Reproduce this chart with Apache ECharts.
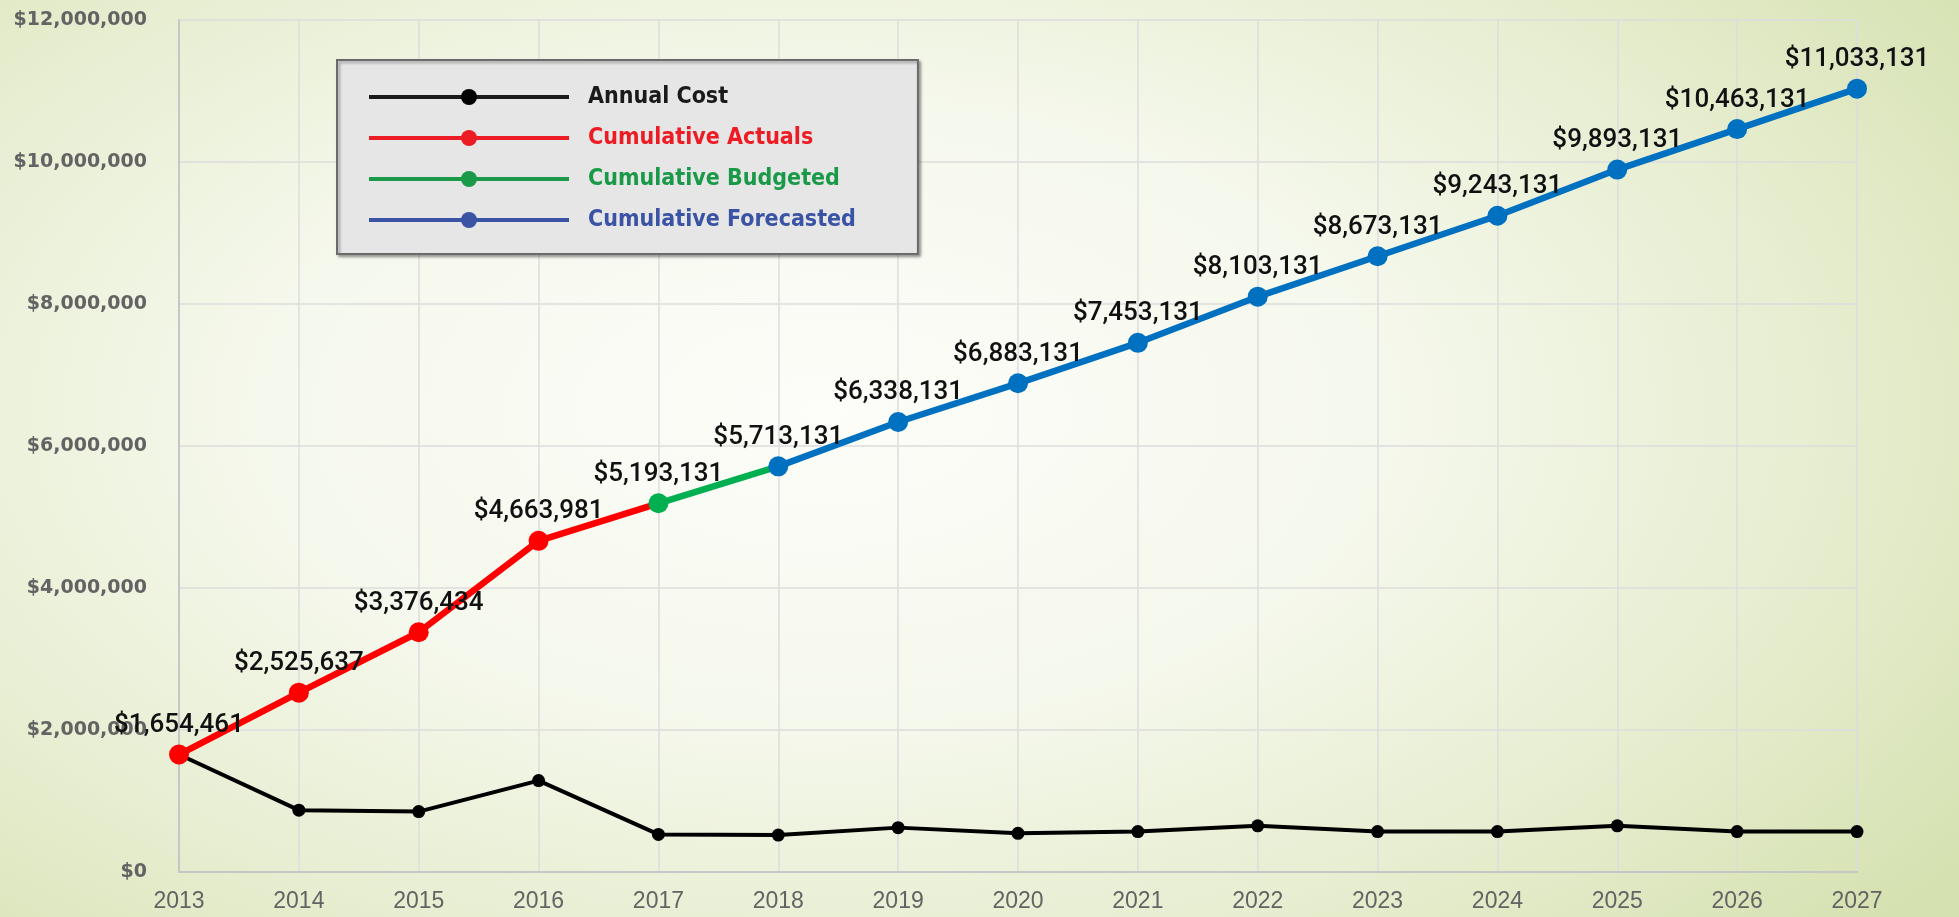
<!DOCTYPE html>
<html>
<head>
<meta charset="utf-8">
<script src="https://cdn.jsdelivr.net/npm/echarts@6/dist/echarts.min.js"></script>
<style>
  html, body { margin: 0; padding: 0; }
  #chart {
    width: 1959px;
    height: 917px;
    background: radial-gradient(ellipse 72% 85% at 42% 45%, #fdfdf9 0%, #f5f8ec 40%, #e6edcf 72%, #d5e1b0 100%);
  }
</style>
</head>
<body>
<div id="chart"></div>
<script>
const years = ['2013', '2014', '2015', '2016', '2017', '2018', '2019', '2020',
  '2021', '2022', '2023', '2024', '2025', '2026', '2027'];

const annualCost = [1654461, 871176, 850797, 1287547, 529150, 520000, 625000, 545000,
  570000, 650000, 570000, 570000, 650000, 570000, 570000];

// cumulative segments, the last point of each one joins the next segment
const cumActuals = [1654461, 2525637, 3376434, 4663981, 5193131, null, null, null,
  null, null, null, null, null, null, null];
const cumBudgeted = [null, null, null, null, 5193131, 5713131, null, null,
  null, null, null, null, null, null, null];
const cumForecasted = [null, null, null, null, null, 5713131, 6338131, 6883131,
  7453131, 8103131, 8673131, 9243131, 9893131, 10463131, 11033131];

const yTicks = [0, 2000000, 4000000, 6000000, 8000000, 10000000, 12000000];

const money = v => '$' + Number(v).toLocaleString('en-US');

// hide marker + label on the joining point (it belongs to the next segment)
function segment(values) {
  let last = -1;
  values.forEach((v, i) => { if (v != null) last = i; });
  return values.map((v, i) => {
    if (v == null) return null;
    if (i === last) return { value: v, symbolSize: 0, label: { show: false } };
    return v;
  });
}

const chart = echarts.init(document.getElementById('chart'));

const labelStyle = {
  show: true,
  position: 'top',
  distance: 6,
  formatter: p => money(p.value),
  fontFamily: 'Roboto',
  fontWeight: 500,
  fontSize: 26,
  color: '#111'
};

const legendFont = {
  fontFamily: "'DejaVu Sans Condensed', sans-serif",
  fontWeight: 'bold',
  fontSize: 23
};

const option = {
  backgroundColor: 'transparent',
  animation: false,
  grid: {
    left: 179,
    right: 102,
    top: 20,
    bottom: 45,
    containLabel: false
  },
  legend: {
    left: 337,
    top: 60,
    orient: 'vertical',
    selectedMode: false,
    itemWidth: 200,
    itemHeight: 20,
    itemGap: 15,
    padding: [24, 62, 21, 30],
    backgroundColor: '#e6e6e6',
    borderColor: '#6b6b6b',
    borderWidth: 2,
    borderRadius: 0,
    shadowBlur: 3,
    shadowOffsetX: 2,
    shadowOffsetY: 2,
    shadowColor: 'rgba(0,0,0,0.35)',
    textStyle: Object.assign({ padding: [0, 0, 0, 14], lineHeight: 26 }, legendFont),
    data: [
      { name: 'Annual Cost', textStyle: { color: '#1a1a1a' },
        itemStyle: { color: '#000' }, lineStyle: { color: '#1a1a1a', width: 4 } },
      { name: 'Cumulative Actuals', textStyle: { color: '#ed1c24' },
        itemStyle: { color: '#ed1c24' }, lineStyle: { color: '#ed1c24', width: 4 } },
      { name: 'Cumulative Budgeted', textStyle: { color: '#1a9a48' },
        itemStyle: { color: '#1a9a48' }, lineStyle: { color: '#1a9a48', width: 4 } },
      { name: 'Cumulative Forecasted', textStyle: { color: '#3a53a4' },
        itemStyle: { color: '#3a53a4' }, lineStyle: { color: '#3a53a4', width: 4 } }
    ]
  },
  xAxis: {
    type: 'category',
    data: years,
    boundaryGap: false,
    axisTick: { show: false },
    axisLine: { lineStyle: { color: '#c6c6c6', width: 2 } },
    axisLabel: {
      margin: 18,
      fontFamily: 'Liberation Sans',
      fontSize: 23,
      color: '#636363'
    },
    splitLine: { show: true, lineStyle: { color: '#dcdcdc', width: 1.5 } }
  },
  yAxis: {
    type: 'value',
    min: yTicks[0],
    max: yTicks[yTicks.length - 1],
    interval: yTicks[1] - yTicks[0],
    axisLine: { show: true, lineStyle: { color: '#c6c6c6', width: 2 } },
    axisTick: { show: false },
    axisLabel: {
      margin: 32,
      formatter: v => money(v),
      fontFamily: 'DejaVu Sans',
      fontWeight: 'bold',
      fontSize: 19,
      color: '#636363'
    },
    splitLine: { lineStyle: { color: '#dcdcdc', width: 1.5 } }
  },
  series: [
    {
      name: 'Annual Cost',
      type: 'line',
      data: annualCost,
      symbol: 'circle',
      symbolSize: 13,
      itemStyle: { color: '#000' },
      lineStyle: { color: '#000', width: 4 },
      z: 2
    },
    {
      name: 'Cumulative Actuals',
      type: 'line',
      data: segment(cumActuals),
      symbol: 'circle',
      symbolSize: 20,
      itemStyle: { color: '#ff0000' },
      lineStyle: { color: '#ff0000', width: 6.5 },
      label: labelStyle,
      z: 3
    },
    {
      name: 'Cumulative Budgeted',
      type: 'line',
      data: segment(cumBudgeted),
      symbol: 'circle',
      symbolSize: 20,
      itemStyle: { color: '#00b050' },
      lineStyle: { color: '#00b050', width: 6.5 },
      label: labelStyle,
      z: 4
    },
    {
      name: 'Cumulative Forecasted',
      type: 'line',
      data: cumForecasted,
      symbol: 'circle',
      symbolSize: 20,
      itemStyle: { color: '#0070c0' },
      lineStyle: { color: '#0070c0', width: 6.5 },
      label: labelStyle,
      z: 5
    }
  ]
};

chart.setOption(option);
</script>
</body>
</html>
